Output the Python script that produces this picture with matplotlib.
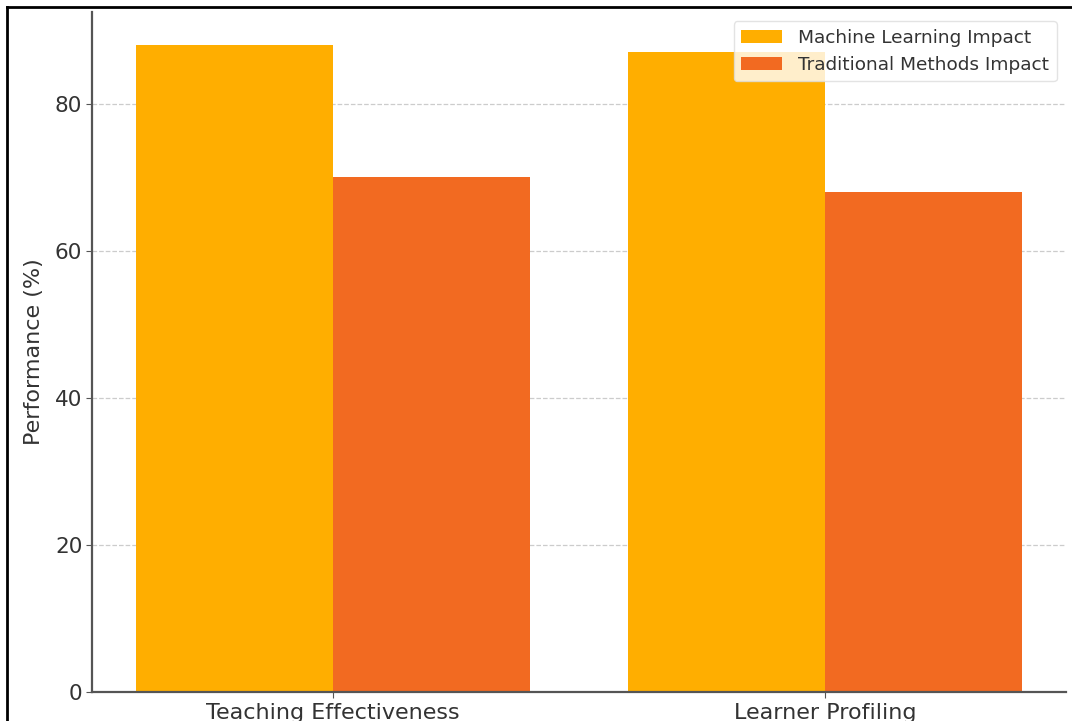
import matplotlib
matplotlib.use("Agg")
import matplotlib.pyplot as plt
import numpy as np
from matplotlib.lines import Line2D

categories = ["Teaching Effectiveness", "Learner Profiling"]
series_names = ["Machine Learning Impact", "Traditional Methods Impact"]
ml_values = [88, 87]
trad_values = [70, 68]
yticks = [0, 20, 40, 60, 80]

W, H = 1072, 721
fig = plt.figure(figsize=(W / 100, H / 100), dpi=100)
ax = fig.add_axes([92 / W, 29 / H, (1066 - 92) / W, (692 - 12) / H])

x = np.arange(len(categories))
width = 0.4
ax.bar(x - width / 2, ml_values, width, color="#FFAE00", label=series_names[0], zorder=2)
ax.bar(x + width / 2, trad_values, width, color="#F26A21", label=series_names[1], zorder=2)

ax.set_ylim(0, 92.5)
ax.set_yticks(yticks)
ax.set_xticks(x)
ax.set_xticklabels(categories, fontsize=16, color="#333333")
ax.tick_params(axis="y", labelsize=15.5, labelcolor="#333333", color="#555555", length=4, pad=3)
ax.tick_params(axis="x", color="#555555", length=4, pad=4)
ax.set_ylabel("Performance (%)", fontsize=16, color="#333333", labelpad=8)
ax.yaxis.grid(True, linestyle="--", color="#cccccc", linewidth=0.9, zorder=0)
ax.set_axisbelow(True)
for s in ["top", "right"]:
    ax.spines[s].set_visible(False)
for s in ["left", "bottom"]:
    ax.spines[s].set_color("#555555")
    ax.spines[s].set_linewidth(1.6)

leg = ax.legend(loc="upper right", fontsize=13.3, frameon=True, borderaxespad=0.5,
                handlelength=2.2, handletextpad=0.9)
for t in leg.get_texts():
    t.set_color("#333333")
leg.get_frame().set_edgecolor("#dddddd")

# screenshot frame lines (top and left)
fig.add_artist(Line2D([7 / W, 1], [1 - 7 / H, 1 - 7 / H], color="black", linewidth=2, transform=fig.transFigure))
fig.add_artist(Line2D([7 / W, 7 / W], [0, 1 - 7 / H], color="black", linewidth=2, transform=fig.transFigure))

fig.savefig("out.png", dpi=100)
